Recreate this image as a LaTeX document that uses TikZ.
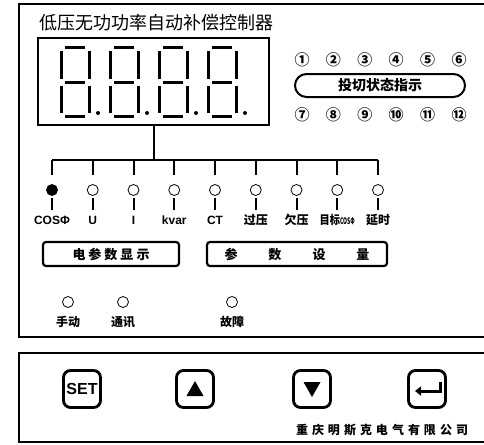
\documentclass[tikz,border=0pt]{standalone}
\usepackage{fontspec}
\usepackage{graphicx}
\setmainfont{Liberation Sans}
\newfontfamily\cjk{Noto Sans CJK SC}
\usetikzlibrary{arrows.meta}
\tikzset{
	panel/.style={line width=1.5pt},
	disp/.style={draw,line width=2pt,minimum width=231pt,minimum height=87pt,inner sep=0pt},
	seg/.style={line width=3pt},
	tick/.style={line width=2pt},
	led/.style={circle,draw,line width=0.8pt,minimum size=11pt,inner sep=0pt},
	lab/.style={font=\bfseries\fontsize{12}{12}\selectfont,inner sep=0pt},
	num/.style={font=\cjk\bfseries\fontsize{15}{15}\selectfont,inner sep=0pt},
	tagbox/.style={draw,line width=2.2pt,rounded corners=3pt,minimum height=24pt,inner sep=0pt,font=\cjk\bfseries\fontsize{13}{13}\selectfont},
	pill/.style={draw,line width=2pt,rounded corners=11.5pt,minimum width=170pt,minimum height=23pt,inner sep=0pt,font=\cjk\bfseries\fontsize{14}{14}\selectfont},
	key/.style={draw,line width=2.8pt,rounded corners=7pt,minimum size=37pt,inner sep=0pt},
	keysym/.style={line width=3pt}
}
\begin{document}
\begin{tikzpicture}[x=1pt,y=-1pt]
	\useasboundingbox (0,0) rectangle (484,444);
	\draw[panel] (19,4) rectangle (495,337);
	\draw[panel] (19,353) rectangle (495,442);

	\node[anchor=west,inner sep=0pt,font=\cjk\fontsize{18}{18}\selectfont] (title) at (39,23) {低压无功功率自动补偿控制器};

	\node[disp] (disp) at (153.5,81.5) {};
	\foreach \x in {61,110,159,208} {
		\draw[seg] (\x+4,48) -- (\x+24,48);
		\draw[seg] (\x+4,82) -- (\x+24,82);
		\draw[seg] (\x+4,116) -- (\x+24,116);
		\draw[seg] (\x,51.5) -- (\x,78.5);
		\draw[seg] (\x,85.5) -- (\x,112.5);
		\draw[seg] (\x+28,51.5) -- (\x+28,78.5);
		\draw[seg] (\x+28,85.5) -- (\x+28,112.5);
		\fill (\x+37,113) circle (2pt);
	}

	\coordinate (bus) at (153.5,160);
	\coordinate (labrow) at (0,220);
	\coordinate (lowrow) at (0,322);
	\draw[tick] (disp.south) -- (bus);
	\foreach \t [count=\i] in {COSΦ,U,I,kvar,CT,\cjk 过压,\cjk 欠压,{\cjk\scalebox{0.85}[1]{目标}\scalebox{0.42}[0.75]{COSΦ}},\cjk 延时} {
		\node[led] (led\i) at ({52+40.75*(\i-1)},190) {};
		\draw[tick] (led\i |- bus) -- ++(0,15);
		\draw[tick] ([yshift=-2pt]led\i.south) -- ++(0,12);
		\node[lab] (lab\i) at (led\i |- labrow) {\t};
	}
	\draw[tick] (led1 |- bus) -- (led9 |- bus);
	\fill (led1) circle (5.5pt);

	\node[tagbox,minimum width=136pt] (elec) at (111,254) {电\kern3pt 参\kern3pt 数\kern3pt 显\kern3pt 示};
	\node[tagbox,minimum width=180pt] (sets) at (297,254) {参\kern31pt 数\kern31pt 设\kern31pt 量};

	\foreach \i in {1,...,6} {
		\pgfmathtruncatemacro\j{\i+6}
		\node[num] (up\i) at ({302+31.4*(\i-1)},60) {\char\numexpr"245F+\i\relax};
		\node[num] (dn\i) at ({302+31.4*(\i-1)},115) {\char\numexpr"245F+\j\relax};
	}
	\node[pill] (state) at (380,85.5) {投切状态指示};

	\node[led] (man) at (68,302) {};
	\node[led] (com) at (123,302) {};
	\node[led] (err) at (232,302) {};
	\node[lab] (manl) at (man |- lowrow) {\cjk 手动};
	\node[lab] (coml) at (com |- lowrow) {\cjk 通讯};
	\node[lab] (errl) at (err |- lowrow) {\cjk 故障};

	\node[key,font=\bfseries\fontsize{16}{16}\selectfont] (set) at (82,389) {SET};
	\node[key] (up) at (195,389) {};
	\node[key] (down) at (312,389) {};
	\node[key] (enter) at (427,389) {};
	\fill ([shift={(0,-8)}]up.center) -- ++(8.5,15) -- ++(-17,0) -- cycle;
	\fill ([shift={(0,8)}]down.center) -- ++(8.5,-15) -- ++(-17,0) -- cycle;
	\draw[keysym,-{Triangle[length=6pt,width=9pt]}] ([shift={(13,-7)}]enter.center) -- ++(0,9) -- ++(-25,0);

	\node[inner sep=0pt,font=\cjk\bfseries\fontsize{12}{12}\selectfont] (firm) at (382,430) {重\kern4pt 庆\kern4pt 明\kern4pt 斯\kern4pt 克\kern4pt 电\kern4pt 气\kern4pt 有\kern4pt 限\kern4pt 公\kern4pt 司};
\end{tikzpicture}
\end{document}
